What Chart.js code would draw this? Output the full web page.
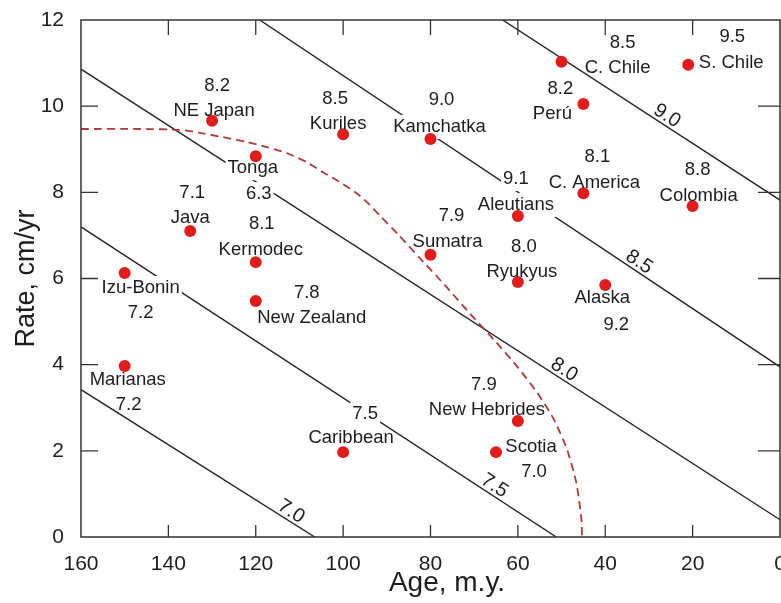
<!DOCTYPE html>
<html>
<head>
<meta charset="UTF-8">
<title>Rate vs Age</title>
<style>
  html, body { margin:0; padding:0; background:#fff; overflow:hidden; }
  #wrap { width:781px; height:603px; }
</style>
<script src="https://cdn.jsdelivr.net/npm/chart.js"></script>
</head>
<body>
<div id="wrap"><canvas id="c" width="781" height="603"></canvas></div>
<script>
// subduction zones: age of slab (m.y.), convergence rate (cm/yr), largest quake
const zones = ['NE Japan','Tonga','Kuriles','Kamchatka','C. Chile','S. Chile','Perú','C. America','Colombia',
  'Aleutians','Sumatra','Ryukyus','Alaska','Java','Kermodec','Izu-Bonin','New Zealand','Marianas',
  'Caribbean','New Hebrides','Scotia'];
const ages  = [130, 120, 100, 80, 50, 21, 45, 45, 20, 60, 80, 60, 40, 135, 120, 150, 120, 150, 100, 60, 65];
const rates = [9.66, 8.84, 9.35, 9.24, 11.03, 10.96, 10.05, 7.98, 7.68, 7.45, 6.55, 5.92, 5.85, 7.1, 6.38,
  6.13, 5.48, 3.97, 1.97, 2.69, 1.97];
const mags  = ['8.2','6.3','8.5','9.0','8.5','9.5','8.2','8.1','8.8','9.1','7.9','8.0','9.2','7.1','8.1',
  '7.2','7.8','7.2','7.5','7.9','7.0'];

// magnitude contours (two end points each)
const contourMags  = ['7.0','7.5','8.0','8.5','9.0'];
const contourAges  = [[160, 106.5], [160, 51.2], [160, 0], [119.1, 0], [63.5, 0]];
const contourRates = [[3.42, 0], [7.2, 0], [10.86, 0.4], [12, 3.95], [12, 7.82]];
const contourLabelAge = [113, 66.5, 50.5, 33.4, 27];

// dashed boundary curve
const curveAges  = [160, 146.5, 137.4, 132.8, 127.5, 122.1, 117.5, 112.9, 108.3, 104.7, 100.8, 96.9, 93.9,
  91.7, 87.1, 82.5, 76.3, 71.1, 65.4, 60.1, 55.5, 51.7, 48.7, 46.6, 45.5, 45.3];
const curveRates = [9.47, 9.47, 9.45, 9.38, 9.28, 9.17, 9.05, 8.91, 8.70, 8.47, 8.24, 7.98, 7.71,
  7.47, 6.99, 6.48, 5.80, 5.20, 4.57, 3.95, 3.34, 2.72, 2.02, 1.25, 0.46, 0];

const xTicks = [160, 140, 120, 100, 80, 60, 40, 20, 0];
const yTicks = [0, 2, 4, 6, 8, 10, 12];

// label placement, pixel offsets from the point: [nameDx, nameDy, magDx, magDy], and knock-outs
const labelPos = [
  [2,-10, 5,-35], [-3,12, 3,38], [-5,-10, -8,-35], [9,-12, 11,-39], [56,6, 61,-19], [43,-2, 44,-28],
  [-31,10, -23,-15], [11,-10, 14,-36], [6,-10, 5,-36], [-2,-11, -2,-37], [17,-13, 21,-39],
  [4,-10, 6,-35], [-3,13, 11,40], [0,-13, 2,-38], [5,-12, 6,-38], [16,15, 16,40], [56,17, 51,-8],
  [3,14, 4,39], [8,-14, 22,-38], [-31,-11, -34,-36], [35,-5, 38,20]
];
const knockName = ['Tonga','Kamchatka','Aleutians','Izu-Bonin'];
const knockMag  = ['Tonga','Aleutians','Caribbean'];

const TXT = '#1d1d1d';
const FAMILY = '"Liberation Sans", Arial, sans-serif';
const LABEL_FONT = '18.5px ' + FAMILY;
const PLOT_RIGHT = 780;   // the original frame runs to the image edge, so "0" gets clipped

const contourSets = contourMags.map((m, i) => ({
  label: 'M ' + m,
  data: contourAges[i].map((a, j) => ({x: a, y: contourRates[i][j]})),
  showLine: true, borderColor: '#222', borderWidth: 1.4, pointRadius: 0, order: 3
}));

const curveSet = {
  label: 'boundary',
  data: curveAges.map((a, i) => ({x: a, y: curveRates[i]})),
  showLine: true, borderColor: '#b3383a', borderWidth: 1.8, borderDash: [8, 5],
  tension: 0.2, pointRadius: 0, order: 2
};

const pointSet = {
  label: 'zones',
  data: ages.map((a, i) => ({x: a, y: rates[i]})),
  showLine: false, pointRadius: 6, pointHoverRadius: 6, backgroundColor: '#e11d1b', borderWidth: 0, order: 1
};

const CURVE_IDX = contourSets.length;

function labelBoxes(chart) {
  const {x, y} = chart.scales;
  const out = [];
  zones.forEach((z, i) => {
    const px = x.getPixelForValue(ages[i]), py = y.getPixelForValue(rates[i]);
    const p = labelPos[i];
    out.push({text: z, x: px + p[0], y: py + p[1], knock: knockName.includes(z)});
    out.push({text: mags[i], x: px + p[2], y: py + p[3], knock: knockMag.includes(z)});
  });
  return out;
}

const decor = {
  id: 'decor',
  afterLayout(chart) {
    const x = chart.scales.x;
    chart.chartArea.right = PLOT_RIGHT;
    chart.chartArea.width = PLOT_RIGHT - chart.chartArea.left;
    x.right = PLOT_RIGHT;
    x.width = PLOT_RIGHT - x.left;
    x.configure();
  },
  beforeDatasetDraw(chart, args) {
    if (args.index !== CURVE_IDX) return;
    const ctx = chart.ctx;
    ctx.save();
    ctx.font = LABEL_FONT;
    ctx.fillStyle = '#fff';
    labelBoxes(chart).filter(b => b.knock).forEach(b => {
      const w = ctx.measureText(b.text).width;
      ctx.fillRect(b.x - w / 2 - 2, b.y - 12, w + 4, 24);
    });
    ctx.restore();
  },
  afterDatasetsDraw(chart) {
    const {ctx, chartArea: ca, scales: {x, y}} = chart;
    ctx.save();
    // frame
    ctx.strokeStyle = '#333';
    ctx.lineWidth = 1.5;
    ctx.strokeRect(ca.left, ca.top, ca.right - ca.left, ca.bottom - ca.top);
    // inward ticks
    ctx.lineWidth = 1.3;
    ctx.beginPath();
    xTicks.slice(1, -1).forEach(v => {
      const px = x.getPixelForValue(v);
      ctx.moveTo(px, ca.bottom); ctx.lineTo(px, ca.bottom - 12);
      ctx.moveTo(px, ca.top); ctx.lineTo(px, ca.top + 15);
    });
    yTicks.slice(1, -1).forEach(v => {
      const py = y.getPixelForValue(v);
      ctx.moveTo(ca.left, py); ctx.lineTo(ca.left + 17, py);
      ctx.moveTo(ca.right, py); ctx.lineTo(ca.right - 22, py);
    });
    ctx.stroke();

    // zone labels
    ctx.font = LABEL_FONT;
    ctx.fillStyle = TXT;
    ctx.textAlign = 'center';
    ctx.textBaseline = 'middle';
    labelBoxes(chart).forEach(b => ctx.fillText(b.text, b.x, b.y));

    // contour labels
    ctx.font = '20px ' + FAMILY;
    contourMags.forEach((m, i) => {
      const [a0, a1] = contourAges[i], [r0, r1] = contourRates[i];
      const x0 = x.getPixelForValue(a0), y0 = y.getPixelForValue(r0);
      const x1 = x.getPixelForValue(a1), y1 = y.getPixelForValue(r1);
      const ang = Math.atan2(y1 - y0, x1 - x0);
      const a = contourLabelAge[i];
      const r = r0 + (r1 - r0) * (a - a0) / (a1 - a0);
      const lx = x.getPixelForValue(a) + Math.sin(ang) * 9;
      const ly = y.getPixelForValue(r) - Math.cos(ang) * 9;
      ctx.save();
      ctx.translate(lx, ly);
      ctx.rotate(ang);
      ctx.fillText(m, 0, 0);
      ctx.restore();
    });

    // x axis title (sits right of centre in the original)
    ctx.font = '28px ' + FAMILY;
    ctx.fillText('Age, m.y.', 447, 583);
    ctx.restore();
  }
};

new Chart(document.getElementById('c'), {
  type: 'scatter',
  data: { datasets: [...contourSets, curveSet, pointSet] },
  options: {
    responsive: false,
    devicePixelRatio: 1,
    animation: false,
    layout: { padding: { top: 20, right: 0, bottom: 0, left: 0 } },
    plugins: { legend: { display: false }, tooltip: { enabled: false } },
    scales: {
      x: {
        type: 'linear', min: 0, max: 160, reverse: true,
        afterBuildTicks: s => { s.ticks = xTicks.map(v => ({value: v})); },
        ticks: { color: TXT, padding: 7, font: { family: FAMILY, size: 21 } },
        grid: { display: false }, border: { display: false },
        title: { display: false },
        afterFit: s => { s.height = 66; }
      },
      y: {
        type: 'linear', min: 0, max: 12,
        afterBuildTicks: s => { s.ticks = yTicks.map(v => ({value: v})); },
        ticks: { color: TXT, padding: 9, font: { family: FAMILY, size: 21 } },
        grid: { display: false }, border: { display: false },
        title: { display: true, text: 'Rate, cm/yr', color: TXT, padding: { top: 10, bottom: 0 },
                 font: { family: FAMILY, size: 27 } },
        afterFit: s => { s.width = 81; s.paddingTop = 0; s.paddingBottom = 0; }
      }
    }
  },
  plugins: [decor]
});
</script>
</body>
</html>
